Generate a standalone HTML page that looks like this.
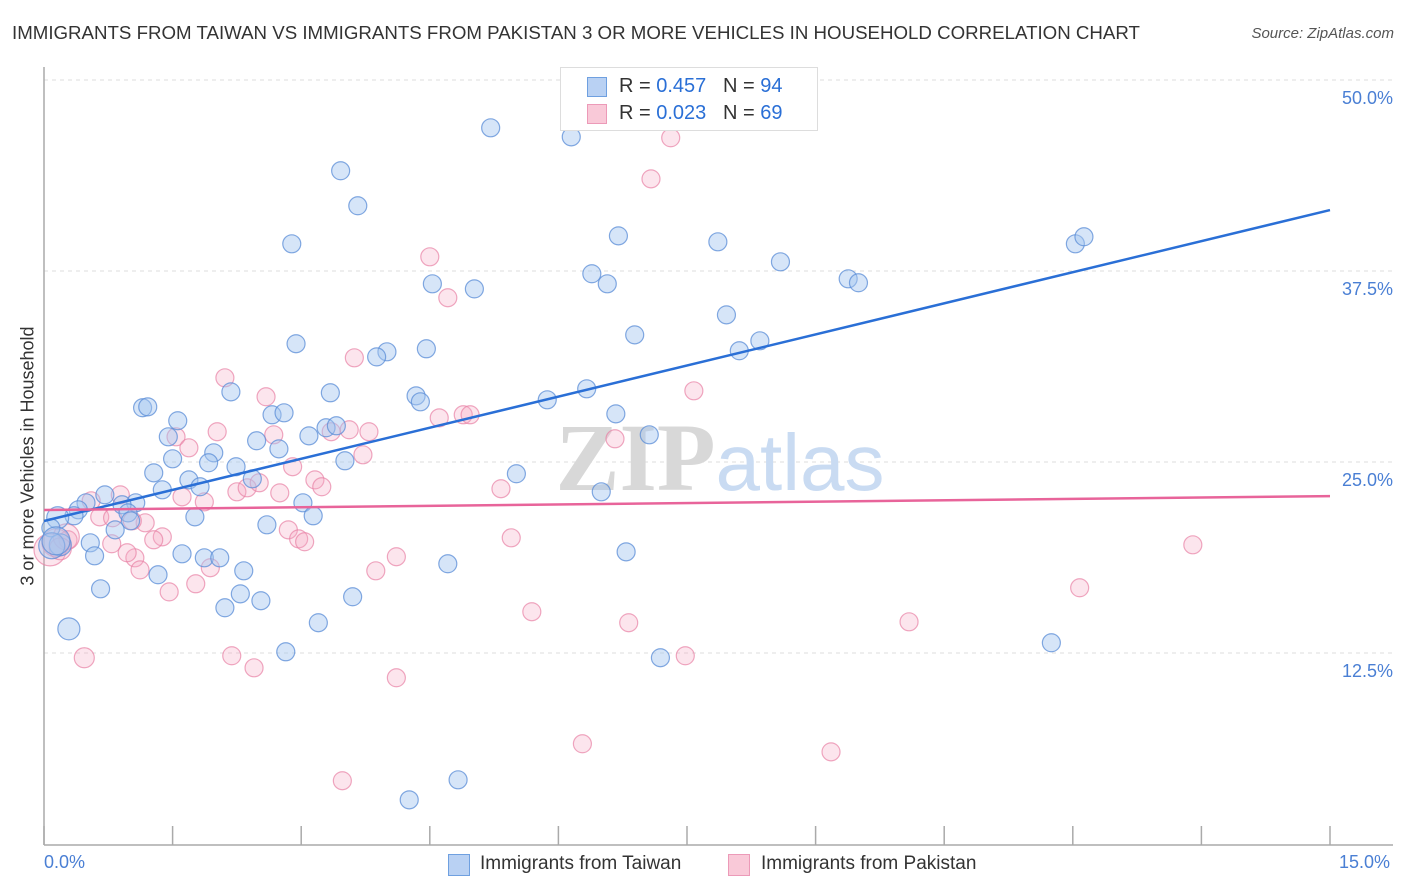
<!DOCTYPE html>
<html><head><meta charset="utf-8"><style>
body{margin:0;background:#fff;font-family:"Liberation Sans",sans-serif;}
#wrap{position:relative;width:1406px;height:892px;overflow:hidden;}
.t{position:absolute;white-space:nowrap;}
</style></head><body>
<div id="wrap">
<div class="t" style="left:12px;top:22px;font-size:18.7px;color:#333;">IMMIGRANTS FROM TAIWAN VS IMMIGRANTS FROM PAKISTAN 3 OR MORE VEHICLES IN HOUSEHOLD CORRELATION CHART</div>
<div class="t" style="right:12px;top:25px;font-size:15px;color:#555;font-style:italic;">Source: ZipAtlas.com</div>
<svg id="svg" width="1406" height="892" style="position:absolute;left:0;top:0"></svg>
</div>
<script>
const xTicks=[0,1.5,3,4.5,6,7.5,9,10.5,12,13.5,15];
const yTicks=[12.5,25,37.5,50];
const yTickLabels=["12.5%","25.0%","37.5%","50.0%"];
const taiwanX=[5.21,6.15,3.46,3.66,2.89,6.70,7.86,8.59,12.03,12.13,6.39,6.57,4.53,5.02,9.38,9.50,7.96,6.89,2.94,4.00,3.88,4.46,8.11,8.35,3.34,4.34,4.39,2.18,5.87,6.33,6.67,1.15,1.21,2.66,2.80,1.56,1.45,3.29,3.41,3.09,2.48,2.74,7.06,1.98,1.50,1.92,2.24,3.51,1.28,2.43,5.51,1.69,1.82,1.38,6.50,0.71,0.49,1.07,0.91,0.40,0.98,0.35,0.16,3.02,3.14,1.76,1.01,2.60,0.83,0.08,0.19,0.54,0.09,0.59,1.61,1.87,2.05,6.79,4.71,2.33,1.33,0.66,2.29,2.53,2.11,3.60,3.20,0.29,2.82,7.19,11.75,4.83,4.26,0.14];
const taiwanY=[46.87,46.28,44.06,41.77,39.28,39.80,39.41,38.10,39.28,39.74,37.32,36.66,36.66,36.33,36.99,36.73,34.63,33.32,32.74,32.21,31.88,32.41,32.28,32.93,29.53,29.33,28.94,29.59,29.07,29.79,28.15,28.55,28.61,28.09,28.22,27.70,26.65,27.24,27.37,26.71,26.39,25.86,26.78,25.60,25.21,24.95,24.69,25.08,24.29,23.90,24.23,23.83,23.38,23.18,23.05,22.85,22.33,22.33,22.20,21.87,21.67,21.48,21.35,22.33,21.48,21.41,21.15,20.89,20.56,20.69,19.58,19.71,19.52,18.86,18.99,18.73,18.73,19.12,18.34,17.88,17.62,16.70,16.37,15.92,15.46,16.18,14.48,14.08,12.58,12.19,13.17,4.20,2.89,19.84];
const taiwanR=[9,9,9,9,9,9,9,9,9,9,9,9,9,9,9,9,9,9,9,9,9,9,9,9,9,9,9,9,9,9,9,9,9,9,9,9,9,9,9,9,9,9,9,9,9,9,9,9,9,9,9,9,9,9,9,9,9,9,9,9,9,9,11,9,9,9,9,9,9,9,11,9,13,9,9,9,9,9,9,9,9,9,9,9,9,9,9,11,9,9,9,9,9,14];
const pakistanX=[7.31,7.08,4.50,4.71,3.62,2.11,2.59,7.58,4.61,4.89,4.97,2.02,1.54,1.69,2.68,3.35,3.56,3.79,6.66,3.72,2.90,3.16,3.24,5.33,0.89,0.55,1.61,1.87,2.25,2.37,2.51,2.75,1.18,0.65,0.80,1.03,2.85,1.38,1.28,2.97,3.04,5.45,0.79,0.28,0.14,0.07,1.06,1.12,4.11,3.87,1.94,1.77,1.46,5.69,6.82,7.48,10.09,12.08,13.40,0.47,2.19,2.45,4.11,6.28,9.18,3.48,0.26,0.19,0.97];
const pakistanY=[46.22,43.53,38.43,35.75,31.82,30.51,29.27,29.66,27.89,28.09,28.09,26.98,26.65,25.93,26.78,26.98,27.11,26.98,26.52,25.47,24.69,23.83,23.38,23.25,22.85,22.46,22.72,22.39,23.05,23.31,23.64,22.98,21.02,21.41,21.35,21.15,20.56,20.10,19.91,19.97,19.78,20.04,19.65,19.91,19.71,19.25,18.73,17.94,18.80,17.88,18.08,17.03,16.50,15.20,14.48,12.32,14.54,16.77,19.58,12.19,12.32,11.53,10.88,6.56,6.03,4.14,20.10,19.32,19.06];
const pakistanR=[9,9,9,9,9,9,9,9,9,9,9,9,9,9,9,9,9,9,9,9,9,9,9,9,9,9,9,9,9,9,9,9,9,9,9,9,9,9,9,9,9,9,9,9,14,16,9,9,9,9,9,9,9,9,9,9,9,9,9,10,9,9,9,9,9,9,13,11,9];
const taiwanTrend=[21.14,41.49];
const pakistanTrend=[21.86,22.77];

const X0=44,X1=1330,Y0=844,PXPER=15.28;
const sx=v=>X0+(v/15)*(X1-X0);
const sy=v=>Y0-v*PXPER;
const svg=document.getElementById('svg');
const NS='http://www.w3.org/2000/svg';
function mk(tag,attrs){const e=document.createElementNS(NS,tag);for(const k in attrs)e.setAttribute(k,attrs[k]);svg.appendChild(e);return e;}

yTicks.forEach((t,i)=>{
  const g=mk('line',{x1:X0,x2:1393,y1:sy(t),y2:sy(t),stroke:'#dcdcdc','stroke-dasharray':'4,4'});
  
  
  const l=mk('text',{x:1393,y:sy(t)+24,'text-anchor':'end','font-size':18,fill:'#4a7fd4','font-family':'Liberation Sans'});
  l.textContent=yTickLabels[i];
  
  
});
const ya=mk('line',{x1:X0,x2:X0,y1:67,y2:845,stroke:'#aaa','stroke-width':1.5});


const xa=mk('line',{x1:X0,x2:1393,y1:845,y2:845,stroke:'#aaa','stroke-width':1.5});


xTicks.forEach(t=>{
  const tk=mk('line',{x1:sx(t),x2:sx(t),y1:826,y2:845,stroke:'#aaa','stroke-width':1.5});
  
  
});
const wm=mk('text',{x:720,y:490,'text-anchor':'middle','font-size':96,'font-family':'Liberation Serif',fill:'#e4e4e4'});
wm.innerHTML='<tspan font-weight="bold" fill="#d8d8d8">ZIP</tspan><tspan font-family="Liberation Sans" font-size="80" fill="#c9dbf2">atlas</tspan>';



function dots(xs,ys,rs,fill,stroke,name){
  xs.forEach((x,i)=>{
    const c=mk('circle',{cx:sx(x),cy:sy(ys[i]),r:rs[i]||9,fill:fill,stroke:stroke,'stroke-width':1.2});
    
    
  });
}
dots(pakistanX,pakistanY,pakistanR,'rgba(245,170,195,0.3)','rgba(232,130,165,0.7)','pakistan-point');
dots(taiwanX,taiwanY,taiwanR,'rgba(165,198,240,0.45)','rgba(90,140,215,0.75)','taiwan-point');
const tl=mk('line',{x1:sx(0),y1:sy(taiwanTrend[0]),x2:sx(15),y2:sy(taiwanTrend[1]),stroke:'#2a6fd6','stroke-width':2.5});


const pl=mk('line',{x1:sx(0),y1:sy(pakistanTrend[0]),x2:sx(15),y2:sy(pakistanTrend[1]),stroke:'#e8649a','stroke-width':2.5});


</script>
<div class="t" style="left:44px;top:852px;font-size:18px;color:#4a7fd4;">0.0%</div>
<div class="t" style="left:1339px;top:852px;font-size:18px;color:#4a7fd4;">15.0%</div>
<div class="t" style="top:456px;font-size:18px;color:#333;transform:translate(-50%,-50%) rotate(-90deg);transform-origin:center;left:28px;">3 or more Vehicles in Household</div>
<div style="position:absolute;left:560px;top:67px;width:256px;height:62px;border:1px solid #ddd;background:#fff;">
 <div style="position:absolute;left:26px;top:9px;width:18px;height:18px;background:#b9d1f3;border:1px solid #6fa0e0;"></div>
 <div class="t" style="left:58px;top:7px;font-size:20px;color:#333;">R = <span style="color:#2a6fd6">0.457</span>&nbsp;&nbsp;&nbsp;N = <span style="color:#2a6fd6">94</span></div>
 <div style="position:absolute;left:26px;top:36px;width:18px;height:18px;background:#f9c9d8;border:1px solid #ec9ab8;"></div>
 <div class="t" style="left:58px;top:34px;font-size:20px;color:#333;">R = <span style="color:#2a6fd6">0.023</span>&nbsp;&nbsp;&nbsp;N = <span style="color:#2a6fd6">69</span></div>
</div>
<div style="position:absolute;left:448px;top:854px;width:20px;height:20px;background:#b9d1f3;border:1px solid #6fa0e0;"></div>
<div class="t" style="left:480px;top:853px;font-size:19px;color:#333;">Immigrants from Taiwan</div>
<div style="position:absolute;left:728px;top:854px;width:20px;height:20px;background:#f9c9d8;border:1px solid #ec9ab8;"></div>
<div class="t" style="left:761px;top:853px;font-size:19px;color:#333;">Immigrants from Pakistan</div>
</body></html>
